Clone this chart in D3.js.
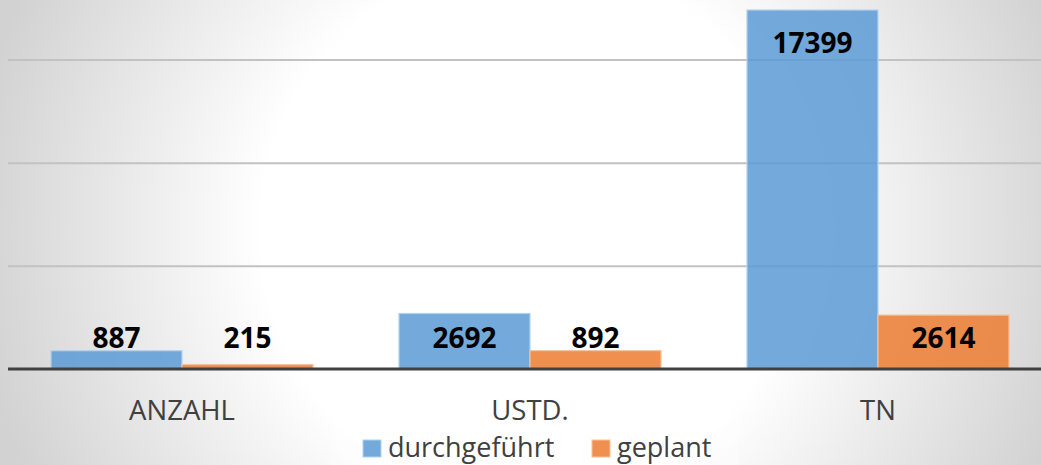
<!DOCTYPE html>
<html>
<head>
<meta charset="utf-8">
<script src="https://cdn.jsdelivr.net/npm/d3@7"></script>
<style>
  body { margin: 0; }
  svg { display: block; font-family: "Open Sans", sans-serif; }
</style>
</head>
<body>
<svg id="chart"></svg>
<script>
// chart data
const categories = ["ANZAHL", "USTD.", "TN"];
const seriesNames = ["durchgeführt", "geplant"];
const durchgefuehrt = [887, 2692, 17399];
const geplant = [215, 892, 2614];
const gridTicks = [5000, 10000, 15000, 20000];

const colors = {"durchgeführt": "#5b9bd5", "geplant": "#ed7d31"};
const strokes = {"durchgeführt": "#b4d2ee", "geplant": "#f7c29c"};

let width = 1041, height = 465;
let margin = {left: 8, right: -11, baseline: 369};

let svg = d3.select("#chart")
    .attr("width", width)
    .attr("height", height);

// background: soft radial grey-to-white
let defs = svg.append("defs");
let grad = defs.append("radialGradient")
    .attr("id", "bg")
    .attr("gradientUnits", "userSpaceOnUse")
    .attr("cx", 530).attr("cy", 230).attr("r", 560);
grad.append("stop").attr("offset", "0").attr("stop-color", "#ffffff");
grad.append("stop").attr("offset", "0.48").attr("stop-color", "#ffffff");
grad.append("stop").attr("offset", "1").attr("stop-color", "#d2d2d2");

svg.append("rect")
    .attr("width", width).attr("height", height)
    .attr("fill", "url(#bg)");

let rows = categories.map((c, i) => ({cat: c, values: [
    {key: seriesNames[0], value: durchgefuehrt[i]},
    {key: seriesNames[1], value: geplant[i]}
]}));

let xScale = d3.scaleBand()
    .domain(categories)
    .range([margin.left, width - margin.right])
    .paddingInner(0.247)
    .paddingOuter(0.1235);

let xSub = d3.scaleBand()
    .domain(seriesNames)
    .range([0, xScale.bandwidth()]);

let yScale = d3.scaleLinear()
    .domain([0, 20000])
    .range([margin.baseline, margin.baseline - 20000 * 0.020633]);

// gridlines
let grid = svg.append("g")
    .attr("transform", "translate(" + margin.left + ",0)")
    .call(d3.axisRight(yScale)
        .tickValues(gridTicks)
        .tickSize(width - margin.left)
        .tickFormat(""));
grid.select(".domain").remove();
grid.selectAll(".tick line")
    .attr("stroke", "#c2c2c2")
    .attr("stroke-width", 2);

// bars
let groups = svg.selectAll(".group")
    .data(rows)
    .enter().append("g")
    .attr("class", "group")
    .attr("transform", (d) => "translate(" + xScale(d.cat) + ",0)");

groups.selectAll("rect")
    .data((d) => d.values)
    .enter().append("rect")
    .attr("x", (d) => xSub(d.key))
    .attr("y", (d) => yScale(d.value))
    .attr("width", xSub.bandwidth())
    .attr("height", (d) => yScale(0) - yScale(d.value))
    .attr("fill", (d) => colors[d.key])
    .attr("fill-opacity", 0.85)
    .attr("stroke", (d) => strokes[d.key])
    .attr("stroke-width", 1.2);

// value labels
groups.selectAll("text.value")
    .data((d) => d.values)
    .enter().append("text")
    .attr("class", "value")
    .attr("x", (d) => xSub(d.key) + xSub.bandwidth() / 2)
    .attr("y", (d) => Math.min(yScale(0) - 21, yScale(d.value) + 43))
    .attr("text-anchor", "middle")
    .attr("font-size", 28)
    .attr("font-weight", "bold")
    .attr("fill", "#000")
    .text((d) => d.value);

// x axis baseline + category labels
let xAxis = svg.append("g")
    .attr("transform", "translate(0," + yScale(0) + ")")
    .call(d3.axisBottom(xScale).tickSize(0).tickPadding(51));
xAxis.select(".domain")
    .attr("d", "M" + margin.left + ",0H" + width)
    .attr("stroke", "#404040")
    .attr("stroke-width", 3);
xAxis.selectAll(".tick text")
    .attr("font-size", 27.5)
    .attr("font-family", "'Open Sans', sans-serif")
    .attr("fill", "#404040")
    .attr("dy", 0);

// legend
let legend = svg.append("g");
legend.append("rect")
    .attr("x", 331).attr("y", 421)
    .attr("width", 408).attr("height", 44)
    .attr("fill", "#fff").attr("fill-opacity", 0.3);

let legendX = [363, 592];
let items = legend.selectAll(".item")
    .data(seriesNames)
    .enter().append("g")
    .attr("class", "item")
    .attr("transform", (d, i) => "translate(" + legendX[i] + ",0)");
items.append("rect")
    .attr("x", 0).attr("y", 440)
    .attr("width", 18).attr("height", 17)
    .attr("fill", (d) => colors[d])
    .attr("fill-opacity", 0.85)
    .attr("stroke", (d) => strokes[d]);
items.append("text")
    .attr("x", 25).attr("y", 457)
    .attr("font-size", 27)
    .attr("fill", "#404040")
    .text((d) => d);
</script>
</body>
</html>
